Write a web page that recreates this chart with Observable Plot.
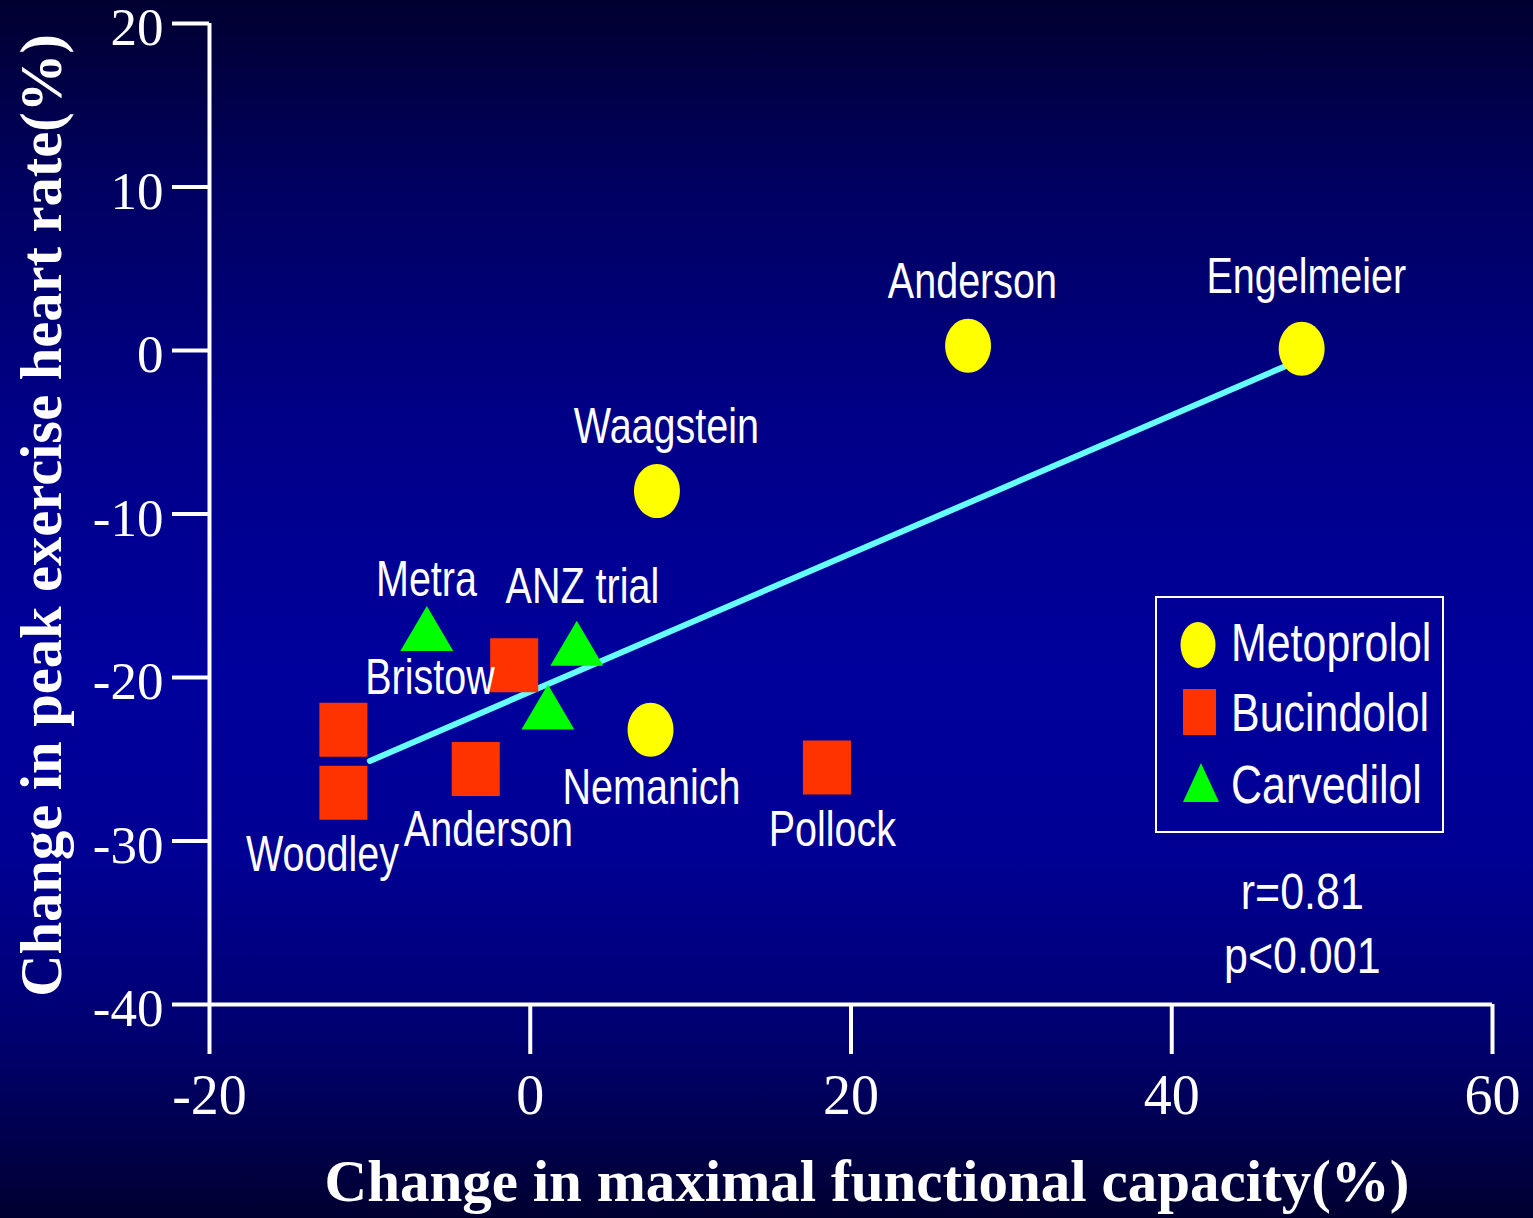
<!DOCTYPE html>
<html>
<head>
<meta charset="utf-8">
<script src="https://cdn.jsdelivr.net/npm/d3@7"></script>
<script src="https://cdn.jsdelivr.net/npm/@observablehq/plot@0.6"></script>
<style>
  html, body { margin: 0; padding: 0; background: #000030; }
  #wrap { position: relative; width: 1533px; height: 1218px;
    background: linear-gradient(to bottom, #000030 0%, #000060 15%, #000088 35%, #00009c 55%, #000094 70%, #000070 85%, #000030 100%); }
  #legend { position: absolute; left: 1155px; top: 596px; }
</style>
</head>
<body>
<div id="wrap"></div>
<script>
// ---- data ----
const drugs = ["Metoprolol", "Bucindolol", "Carvedilol"];
const drugColors = ["#ffff00", "#ff3300", "#00ff00"];

const pointDrug = ["Metoprolol","Metoprolol","Metoprolol","Metoprolol",
                   "Bucindolol","Bucindolol","Bucindolol","Bucindolol","Bucindolol",
                   "Carvedilol","Carvedilol","Carvedilol"];
const pointX = [27.3, 48.1, 7.9, 7.5, -11.65, -11.65, -3.4, -1.0, 18.5, -6.45, 2.9, 1.1];
const pointY = [0.29, 0.1, -8.6, -23.2, -23.2, -27.05, -25.6, -19.25, -25.5, -17.0, -17.9, -21.8];

const labelText = ["Anderson","Engelmeier","Waagstein","Nemanich","Woodley","Anderson","Bristow","Pollock","Metra","ANZ trial"];
const labelX = [27.57, 48.39, 8.49, 7.56, -12.96, -2.61, -6.25, 18.84, -6.47, 3.25];
const labelY = [3.22, 3.53, -5.65, -27.72, -31.82, -30.29, -21.0, -30.29, -15.0, -15.47];

const fitX = [-10.0, 47.3];
const fitY = [-25.1, -0.87];

const statText = ["r=0.81", "p<0.001"];
const statX = [48.14, 48.14];
const statY = [-34.15, -38.06];

const xTicks = [-20, 0, 20, 40, 60];
const yTicks = [-40, -30, -20, -10, 0, 10, 20];
const xTitle = "Change in maximal functional capacity(%)";
const yTitle = "Change in peak exercise heart rate(%)";

// ---- symbols ----
const symEllipse = {draw(c, size) {
  const r = Math.sqrt(size / Math.PI), a = r * 0.85, b = r, k = 0.5523;
  c.moveTo(a, 0);
  c.bezierCurveTo(a, k*b, k*a, b, 0, b);
  c.bezierCurveTo(-k*a, b, -a, k*b, -a, 0);
  c.bezierCurveTo(-a, -k*b, -k*a, -b, 0, -b);
  c.bezierCurveTo(k*a, -b, a, -k*b, a, 0);
  c.closePath();
}};
const symRect = {draw(c, size) {
  const r = Math.sqrt(size / Math.PI), a = r * 0.89, b = r;
  c.moveTo(-a, -b); c.lineTo(a, -b); c.lineTo(a, b); c.lineTo(-a, b); c.closePath();
}};
const symTri = {draw(c, size) {
  const r = Math.sqrt(size / Math.PI), a = r * 0.98, b = r * 0.833;
  c.moveTo(0, -b); c.lineTo(a, b); c.lineTo(-a, b); c.closePath();
}};
const drugSymbols = [symEllipse, symRect, symTri];

const points = pointX.map((x, i) => ({x, y: pointY[i], drug: pointDrug[i]}));
const labels = labelText.map((t, i) => ({t, x: labelX[i], y: labelY[i]}));
const fit = fitX.map((x, i) => ({x, y: fitY[i]}));
const stats = statText.map((t, i) => ({t, x: statX[i], y: statY[i]}));

const sans = "'Liberation Sans', Arial, sans-serif";
const sansStat = "'Liberation Sans', Arial, Helvetica, sans-serif";
const serif = "'Liberation Serif', 'Times New Roman', serif";
const fmt = d => String(d);

const marks = [
  Plot.ruleX([-20], {y1: -40, y2: 20, stroke: "white", strokeWidth: 4}),
  Plot.ruleY([-40], {x1: -20, x2: 60, stroke: "white", strokeWidth: 4}),
  Plot.axisX({ticks: xTicks, tickSize: 50, fill: "none", stroke: "white", strokeWidth: 4, label: null}),
  Plot.axisX({ticks: xTicks, tickSize: 0, tickPadding: 70, fill: "white", stroke: "none", fontSize: 56, fontFamily: serif, tickFormat: fmt, label: null}),
  Plot.axisY({ticks: yTicks, tickSize: 37, fill: "none", stroke: "white", strokeWidth: 4, label: null}),
  Plot.axisY({ticks: yTicks, tickSize: 0, tickPadding: 46, dy: 5, fill: "white", stroke: "none", fontSize: 53, fontFamily: serif, tickFormat: fmt, label: null}),
  Plot.line(fit, {x: "x", y: "y", stroke: "#66ffff", strokeWidth: 6})
];
drugs.forEach((d, k) => {
  marks.push(Plot.dot(points.filter(p => p.drug === d), {x: "x", y: "y", r: 27, symbol: drugSymbols[k], fill: drugColors[k], stroke: "none"}));
});
marks.push(
  Plot.text(labels, {x: "x", y: "y", text: "t", fill: "white", fontSize: 50, fontFamily: sans, lineAnchor: "bottom", textAnchor: "middle"}),
  Plot.text(stats, {x: "x", y: "y", text: "t", fill: "white", fontSize: 50, fontFamily: sansStat, lineAnchor: "bottom", textAnchor: "middle"}),
  Plot.text([xTitle], {frameAnchor: "bottom", text: d => d, dx: 16, dy: 196, lineAnchor: "bottom", textAnchor: "middle", fill: "white", fontSize: 59, fontWeight: "bold", fontFamily: serif}),
  Plot.text([yTitle], {frameAnchor: "left", text: d => d, rotate: -90, dx: -149, dy: 1.5, lineAnchor: "bottom", textAnchor: "middle", fill: "white", fontSize: 58.5, fontWeight: "bold", fontFamily: serif})
);

const chart = Plot.plot({
  width: 1533, height: 1218,
  marginLeft: 209, marginRight: 41, marginTop: 23, marginBottom: 214,
  style: {background: "transparent", color: "white", overflow: "visible"},
  x: {domain: [-20, 60], label: null},
  y: {domain: [-40, 20], label: null},
  marks
});
document.getElementById("wrap").appendChild(chart);

// condense the sans-serif labels (Arial Narrow look)
function condense(sel, ratio) {
  sel.each(function() {
    const len = this.getComputedTextLength();
    this.setAttribute("textLength", (len * ratio).toFixed(1));
    this.setAttribute("lengthAdjust", "spacingAndGlyphs");
  });
}
condense(d3.select(chart).selectAll("g[font-family=\"" + sans + "\"] text"), 0.79);
condense(d3.select(chart).selectAll("g[font-family=\"" + sansStat + "\"] text"), 0.86);

// ---- legend ----
const lg = d3.select("#wrap").append("svg").attr("id", "legend").attr("width", 378).attr("height", 240);
lg.append("rect").attr("x", 1).attr("y", 1).attr("width", 287).attr("height", 235)
  .attr("fill", "none").attr("stroke", "white").attr("stroke-width", 2);
const legSym = [
  g => g.append("ellipse").attr("cx", 43).attr("cy", 49).attr("rx", 17.5).attr("ry", 23),
  g => g.append("rect").attr("x", 28).attr("y", 93).attr("width", 33).attr("height", 46),
  g => g.append("path").attr("d", "M46,167L64,206L28,206Z")
];
const legBase = [65, 135, 207];
drugs.forEach((d, k) => {
  legSym[k](lg).attr("fill", drugColors[k]);
  lg.append("text").attr("x", 76).attr("y", legBase[k]).attr("fill", "white")
    .attr("font-family", sans).attr("font-size", 53).text(d);
});
condense(lg.selectAll("text"), 0.81);
</script>
</body>
</html>
